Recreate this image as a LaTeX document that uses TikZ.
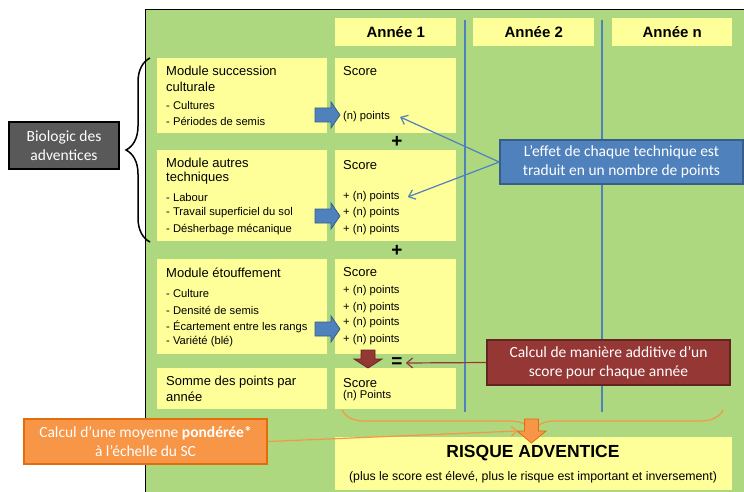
\documentclass[tikz,border=0pt]{standalone}
\usepackage{fontspec}
\setmainfont{Liberation Sans}
\newfontfamily\calloutfont{Carlito}
\usetikzlibrary{decorations.pathreplacing,arrows.meta}

\definecolor{bggreen}{RGB}{174,216,128}
\definecolor{boxyellow}{RGB}{255,255,153}
\definecolor{colblue}{RGB}{79,129,189}
\definecolor{colbluedark}{RGB}{56,93,138}
\definecolor{darkred}{RGB}{149,55,53}
\definecolor{darkreddark}{RGB}{99,37,35}
\definecolor{orangefill}{RGB}{247,150,70}
\definecolor{orangedark}{RGB}{228,108,10}
\definecolor{greybox}{RGB}{89,89,89}

\tikzset{
  ybox/.style={fill=boxyellow, anchor=north west, inner sep=0pt},
  yearhead/.style={font=\bfseries\fontsize{15}{18}\selectfont},
  titletxt/.style={anchor=west, inner sep=0pt, font=\fontsize{13}{15}\selectfont},
  itemtxt/.style={anchor=west, inner sep=0pt, font=\fontsize{11.2}{13}\selectfont},
  calloutbox/.style={line width=1.5pt, text=white, align=center, inner sep=0pt, minimum width=243, minimum height=45, font=\calloutfont\fontsize{15.5}{19}\selectfont},
  con/.style={line width=1.2pt, -{Straight Barb[length=6pt,width=10pt]}},
  barrow/.style={fill=colblue, draw=colbluedark, line width=0.8pt},
  sign/.style={inner sep=0pt, font=\bfseries\fontsize{19}{19}\selectfont}
}

\begin{document}
\begin{tikzpicture}[x=1pt,y=-1pt]
  \useasboundingbox (0,0) rectangle (744,492);
  % background and year columns
  \filldraw[fill=bggreen, draw=black, line width=1pt] (145,10) rectangle (750,500);
  \foreach \x in {465,602}
    \draw[colblue, line width=1.2pt] (\x,20) -- (\x,412);

  \node[ybox, yearhead, minimum width=121, minimum height=28] (an1) at (335,18) {Année 1};
  \node[ybox, yearhead, minimum width=121, minimum height=28] (an2) at (473,18) {Année 2};
  \node[ybox, yearhead, minimum width=120, minimum height=28] (ann) at (612,18) {Année n};

  % module and score boxes
  \foreach \n/\y/\h in {1/58/75, 2/150/91, 3/259/95, 4/368/41} {
    \node[ybox, minimum width=170, minimum height=\h] (mod\n) at (157,\y) {};
    \node[ybox, minimum width=121, minimum height=\h] (sc\n) at (335,\y) {};
  }
  \node[ybox, minimum width=397, minimum height=53] (risk) at (335,437) {};

  \foreach \y/\t in {71/Module succession, 87/culturale, 163/Module autres, 178/techniques, 273/Module étouffement, 382/Somme des points par, 397/année}
    \node[titletxt] (m\y) at (166,\y) {\t};
  \foreach \y/\t in {105/- Cultures, 121/- Périodes de semis, 197/- Labour, 213/- Travail superficiel du sol, 230/- Désherbage mécanique, 293/- Culture, 310/- Densité de semis, 327/- Écartement entre les rangs, 342/- Variété (blé)}
    \node[itemtxt] (i\y) at (166,\y) {\t};
  \foreach \y in {71,165,272,383}
    \node[titletxt] (s\y) at (343,\y) {Score};
  \node[itemtxt] (p117) at (343,117) {(n) points};
  \foreach \y in {197,213,230,291,308,323,340}
    \node[itemtxt] (p\y) at (343,\y) {+ (n) points};
  \node[itemtxt] (p396) at (343,396) {(n) Points};

  \node[font=\bfseries\fontsize{17.5}{20}\selectfont] (risktitle) at (533,453) {RISQUE ADVENTICE};
  \node[font=\fontsize{12.3}{14}\selectfont] (risknote) at (533,477) {(plus le score est élevé, plus le risque est important et inversement)};

  \node[sign] (plus1) at (397,142) {+};
  \node[sign] (plus2) at (397,251) {+};
  \node[sign] (equal) at (397,363) {=};

  % block arrows
  \foreach \y in {115,216,329}
    \filldraw[barrow] (315,\y-7) -- (331,\y-7) -- (331,\y-13) -- (340,\y) -- (331,\y+13) -- (331,\y+7) -- (315,\y+7) -- cycle;
  \filldraw[fill=darkred, draw=darkreddark, line width=0.8pt] (361,350) -- (375,350) -- (375,359) -- (382,359) -- (368,368) -- (354,359) -- (361,359) -- cycle;

  % braces
  \draw[decorate, decoration={brace, amplitude=24pt}, line width=1.5pt] (150,242) -- (150,58);
  \draw[orangefill, decorate, decoration={brace, amplitude=22pt, mirror}, line width=1.2pt] (342,410) -- (723,410);
  \filldraw[fill=orangefill, draw=orangedark, line width=0.8pt] (524.5,419) -- (538.5,419) -- (538.5,431) -- (546,431) -- (531.5,443) -- (517,431) -- (524.5,431) -- cycle;

  % callouts
  \node[calloutbox, fill=greybox, draw=black, minimum width=110, minimum height=47] (biol) at (64,145.5) {Biologic des\\adventices};
  \node[calloutbox, fill=colblue, draw=colbluedark, minimum height=44] (effet) at (621.5,162) {L’effet de chaque technique est\\traduit en un nombre de points};
  \node[calloutbox, fill=darkred, draw=darkreddark] (calc) at (608.5,362.5) {Calcul de manière additive d’un\\score pour chaque année};
  \node[calloutbox, fill=orangefill, draw=orangedark, line width=2pt] (moy) at (145.5,441.5) {Calcul d’une moyenne \textbf{pondérée*}\\à l’échelle du SC};

  % connectors
  \draw[con, colblue] (effet.west) -- ([xshift=10pt]p117.east);
  \draw[con, colblue] (effet.west) -- ([xshift=8pt]p197.east);
  \draw[con, darkred] (calc.west) -- ([xshift=3pt]equal.east);
  \coordinate (riskin) at (518,431);
  \draw[con, orangefill] (moy.east) -- (riskin);
\end{tikzpicture}
\end{document}
